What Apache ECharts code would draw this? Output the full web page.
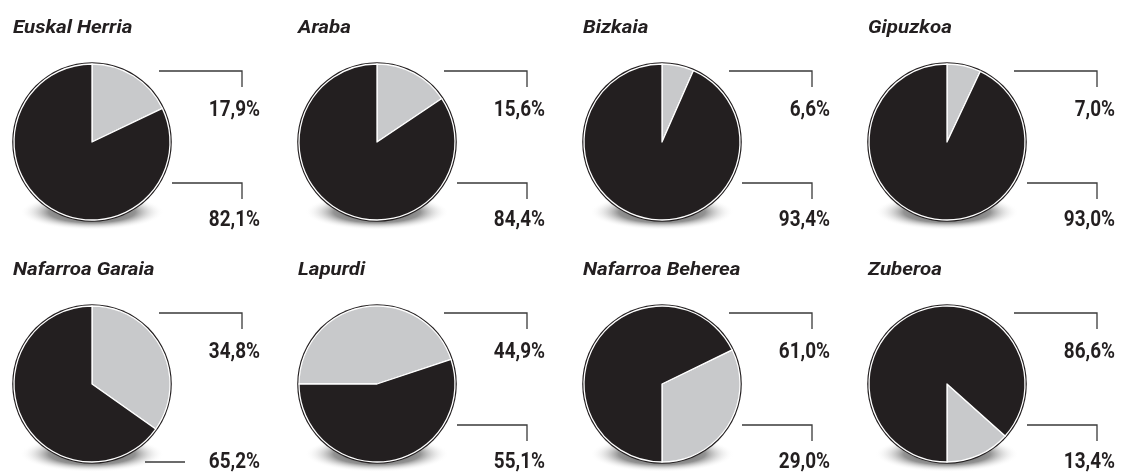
<!DOCTYPE html>
<html><head><meta charset="utf-8">
<script src="https://cdn.jsdelivr.net/npm/echarts@6/dist/echarts.min.js"></script>
<style>html,body{margin:0;padding:0;background:#fff}#c{width:1122px;height:475px}</style>
</head><body><div id="c"></div>
<script>
// ---- data ----
const regions = ['Euskal Herria', 'Araba', 'Bizkaia', 'Gipuzkoa', 'Nafarroa Garaia', 'Lapurdi', 'Nafarroa Beherea', 'Zuberoa'];
const grayShare = [17.9, 15.6, 6.6, 7.0, 34.8, 44.9, 29.0, 13.4];
const blackShare = [82.1, 84.4, 93.4, 93.0, 65.2, 55.1, 61.0, 86.6];
// which slice's value is written at the upper label
const topLabelSlice = ['gray', 'gray', 'gray', 'gray', 'gray', 'gray', 'black', 'black'];

// ---- layout / style ----
const startAngles = [90, 90, 90, 90, 90, 180, -90, -90];
const clockwiseDir = [true, true, true, true, true, true, false, false];
const bottomLeaderKind = ['elbow', 'elbow', 'elbow', 'elbow', 'flat', 'elbow', 'elbow', 'elbow'];
const GRAY = '#c8c9cb', BLACK = '#231f20', INK = '#231f20', LINE = '#3a3a3a';
const R = 78;
const colX = c => 92 + 285 * c;
const rowY = r => 142 + 242 * r;
const fmt = v => v.toFixed(1).replace('.', ',') + '%';

const series = [];
const graphics = [];
regions.forEach((name, i) => {
  const cx = colX(i % 4), cy = rowY(Math.floor(i / 4));
  // shadow: circle with radial gradient, stretched horizontally
  graphics.push({
    type: 'circle', z: 0, silent: true,
    x: cx, y: cy + 70, scaleX: 4, scaleY: 1,
    shape: { cx: 0, cy: 0, r: 18 },
    style: { fill: { type: 'radial', x: 0.5, y: 0.5, r: 0.5, colorStops: [
      { offset: 0, color: 'rgba(60,60,60,1)' },
      { offset: 0.6, color: 'rgba(120,120,120,0.8)' },
      { offset: 1, color: 'rgba(255,255,255,0)' }] } }
  });
  // dark outline ring
  series.push({
    type: 'pie', silent: true, animation: false, z: 1,
    center: [cx, cy], radius: R + 1.8,
    label: { show: false }, labelLine: { show: false },
    itemStyle: { color: BLACK, borderWidth: 0 },
    data: [{ value: 1 }]
  });
  series.push({
    type: 'pie', silent: true, animation: false, z: 2,
    center: [cx, cy], radius: R,
    startAngle: startAngles[i], clockwise: clockwiseDir[i],
    label: { show: false }, labelLine: { show: false },
    itemStyle: { borderColor: '#ffffff', borderWidth: 1.3 },
    data: [
      { name: 'gray', value: grayShare[i], itemStyle: { color: GRAY } },
      { name: 'black', value: blackShare[i], itemStyle: { color: BLACK } }
    ]
  });
  // title
  graphics.push({
    type: 'text', z: 10, silent: true,
    x: cx - 79, y: cy - 104, scaleX: 1.08, scaleY: 1,
    style: { text: name, x: 0, y: 0, verticalAlign: 'bottom',
      font: 'italic bold 19px Roboto', fill: INK }
  });
  const topV = topLabelSlice[i] === 'gray' ? grayShare[i] : blackShare[i];
  const botV = topLabelSlice[i] === 'gray' ? blackShare[i] : grayShare[i];
  // top leader
  graphics.push({
    type: 'polyline', z: 10, silent: true,
    shape: { points: [[cx + 67, cy - 71], [cx + 150, cy - 71], [cx + 150, cy - 55]] },
    style: { stroke: LINE, lineWidth: 1.3, fill: null }
  });
  // bottom leader
  if (bottomLeaderKind[i] === 'elbow') {
    graphics.push({
      type: 'polyline', z: 10, silent: true,
      shape: { points: [[cx + 80, cy + 41], [cx + 150, cy + 41], [cx + 150, cy + 57]] },
      style: { stroke: LINE, lineWidth: 1.3, fill: null }
    });
  } else {
    graphics.push({
      type: 'polyline', z: 10, silent: true,
      shape: { points: [[cx + 53, cy + 78], [cx + 93, cy + 78]] },
      style: { stroke: LINE, lineWidth: 1.3, fill: null }
    });
  }
  // labels
  [[topV, cy - 24], [botV, cy + 86]].forEach(([v, base]) => {
    graphics.push({
      type: 'text', z: 10, silent: true,
      x: cx + 168, y: base - 8, scaleX: 0.86, scaleY: 1,
      style: { text: fmt(v), x: 0, y: 0, align: 'right', verticalAlign: 'middle',
        font: 'bold 22px Roboto', fill: INK }
    });
  });
});

const chart = echarts.init(document.getElementById('c'), null, { renderer: 'canvas' });
chart.setOption({
  animation: false,
  backgroundColor: '#ffffff',
  series: series,
  graphic: { elements: graphics }
});
</script>
</body></html>
